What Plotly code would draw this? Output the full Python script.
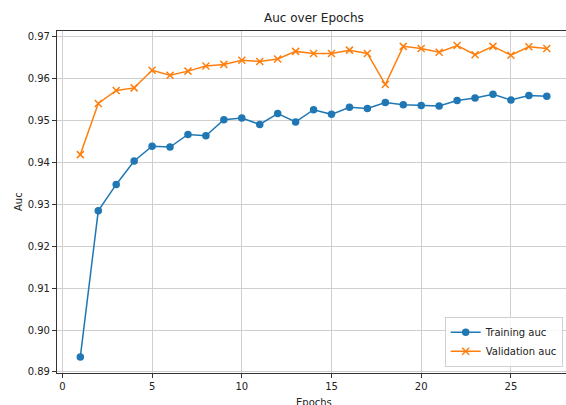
import plotly.graph_objects as go

epochs = list(range(1, 28))
training_auc = [0.8936, 0.9284, 0.9347, 0.9403, 0.9438, 0.9436, 0.9466, 0.9463, 0.9501, 0.9505,
                0.9490, 0.9516, 0.9496, 0.9525, 0.9514, 0.9531, 0.9528, 0.9542, 0.9537, 0.9535,
                0.9534, 0.9547, 0.9553, 0.9562, 0.9548, 0.9559, 0.9557]
validation_auc = [0.9418, 0.9540, 0.9571, 0.9577, 0.9619, 0.9607, 0.9617, 0.9629, 0.9633, 0.9643,
                  0.9640, 0.9646, 0.9664, 0.9659, 0.9659, 0.9667, 0.9659, 0.9585, 0.9676, 0.9671,
                  0.9662, 0.9678, 0.9656, 0.9676, 0.9655, 0.9675, 0.9671]

font = "DejaVu Sans"
fig = go.Figure()
fig.add_trace(go.Scatter(x=epochs, y=training_auc, mode="lines+markers", name="Training auc",
                         line=dict(color="#1f77b4", width=1.5),
                         marker=dict(symbol="circle", size=7.5, color="#1f77b4")))
fig.add_trace(go.Scatter(x=epochs, y=validation_auc, mode="lines+markers", name="Validation auc",
                         line=dict(color="#ff7f0e", width=1.5),
                         marker=dict(symbol="x-thin", size=7, color="#ff7f0e",
                                     line=dict(color="#ff7f0e", width=1.5))))

fig.update_layout(
    width=566, height=405,
    margin=dict(l=57, r=0, t=31, b=32),
    paper_bgcolor="white", plot_bgcolor="white",
    font=dict(family=font, size=10, color="#222"),
    showlegend=True,
    legend=dict(x=0.9935, y=0.018, xanchor="right", yanchor="bottom",
                bgcolor="rgba(255,255,255,0.85)", bordercolor="#d0d0d0", borderwidth=1,
                font=dict(size=10, color="#222"), tracegroupgap=0, itemwidth=30),
    annotations=[
        dict(text="Auc over Epochs", x=0.5, xref="paper", y=1, yref="paper", yshift=4,
             xanchor="center", yanchor="bottom", showarrow=False,
             font=dict(size=12, color="#222"), xshift=2),
        dict(text="Auc", x=0, xref="paper", y=0.5, yref="paper", xshift=-39,
             textangle=-90, showarrow=False, xanchor="center", yanchor="middle",
             font=dict(size=10, color="#222")),
        dict(text="Epochs", x=0.5, xref="paper", y=0, yref="paper", yshift=-22,
             showarrow=False, xanchor="center", yanchor="top",
             font=dict(size=10, color="#222"), xshift=2),
    ],
)
fig.update_xaxes(range=[-0.3, 28.07], tickmode="linear", tick0=0, dtick=5,
                 showgrid=True, gridcolor="#cfcfcf", gridwidth=1, zeroline=False,
                 showline=True, linecolor="#333", linewidth=1.2, mirror=True,
                 ticks="outside", ticklen=4, tickcolor="#333")
fig.update_yaxes(range=[0.88976, 0.97126], tickmode="linear", tick0=0.89, dtick=0.01,
                 tickformat=".2f",
                 showgrid=True, gridcolor="#cfcfcf", gridwidth=1, zeroline=False,
                 showline=True, linecolor="#333", linewidth=1.2, mirror=True,
                 ticks="outside", ticklen=4, tickcolor="#333")

fig.write_html("out.html", config={"displayModeBar": False},
               post_script="document.body.style.margin='0';document.body.style.overflow='hidden';")
